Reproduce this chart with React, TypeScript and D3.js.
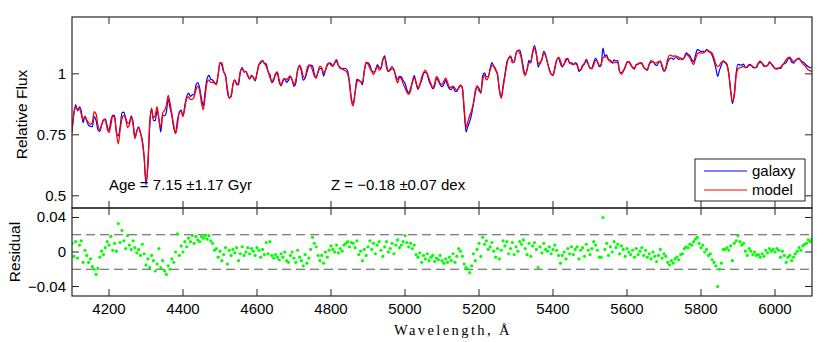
import React from 'react';
import * as d3 from 'd3';

// Wavelength grid: first sample and spacing (Å)
const startWavelength = 4100;
const stepWavelength = 5;

// Best-fit model spectrum (relative flux), one value per 5 Å from 4100 to 6100 Å
const modelFlux: number[] = [
  0.757,0.84,0.862,0.855,0.857,0.835,0.812,0.825,0.81,0.80,0.793,0.80,0.845,0.835,0.79,0.77,0.79,0.812,0.81,0.775,
  0.76,0.79,0.828,0.82,0.76,0.713,0.77,0.815,0.83,0.815,0.78,0.79,0.825,0.79,0.735,0.765,0.78,0.76,0.72,0.66,
  0.56,0.63,0.80,0.859,0.82,0.83,0.865,0.81,0.78,0.84,0.85,0.87,0.912,0.88,0.835,0.79,0.756,0.79,0.845,0.845,
  0.826,0.86,0.90,0.905,0.895,0.895,0.905,0.935,0.95,0.93,0.88,0.853,0.91,0.965,0.975,0.965,0.965,0.962,0.955,1.0,
  1.045,1.045,1.01,0.99,0.94,0.90,0.91,0.955,0.975,0.955,0.965,1.01,1.02,1.01,1.01,0.99,0.98,0.99,0.985,0.975,
  1.0,1.035,1.05,1.052,1.045,1.03,1.01,0.985,0.968,0.98,1.0,1.008,0.975,0.953,0.975,0.98,0.975,0.985,0.992,0.975,
  0.956,0.975,1.015,1.036,1.02,0.99,0.985,1.02,1.037,1.033,1.015,0.99,0.982,1.01,1.032,1.025,1.004,1.015,1.04,1.043,
  1.035,1.03,1.045,1.05,1.035,1.022,1.02,1.015,1.012,1.0,0.96,0.89,0.868,0.92,0.965,0.975,0.968,0.965,1.01,1.048,
  1.04,1.023,1.01,0.997,1.015,1.03,1.015,1.02,1.06,1.068,1.025,1.01,1.015,1.02,1.018,0.985,0.963,0.985,0.98,0.96,
  0.942,0.925,0.916,0.93,0.965,0.985,0.965,0.942,0.955,0.985,1.005,1.015,1.0,0.98,0.96,0.943,0.96,0.988,0.98,0.96,
  0.957,0.97,0.982,0.965,0.945,0.945,0.95,0.94,0.933,0.94,0.953,0.945,0.86,0.78,0.805,0.83,0.85,0.88,0.93,0.948,
  0.93,0.925,0.975,0.995,0.975,0.985,1.015,1.035,1.03,1.02,0.995,0.94,0.90,0.94,0.99,1.035,1.065,1.07,1.045,1.05,
  1.08,1.095,1.085,1.06,1.01,0.993,1.02,1.045,1.05,1.085,1.105,1.08,1.045,1.04,1.06,1.082,1.075,1.045,1.015,1.0,
  0.993,1.02,1.055,1.068,1.055,1.032,1.04,1.062,1.06,1.045,1.04,1.04,1.042,1.035,1.018,1.015,1.03,1.045,1.05,1.04,
  1.025,1.02,1.035,1.055,1.05,1.035,1.04,1.065,1.07,1.068,1.06,1.05,1.045,1.045,1.048,1.045,1.01,0.998,1.01,1.03,
  1.045,1.05,1.04,1.025,1.025,1.035,1.042,1.044,1.04,1.03,1.018,1.02,1.04,1.055,1.05,1.045,1.045,1.05,1.05,1.035,
  1.012,1.025,1.06,1.077,1.075,1.072,1.074,1.072,1.068,1.065,1.06,1.065,1.08,1.075,1.065,1.05,1.038,1.06,1.082,1.087,
  1.085,1.085,1.09,1.097,1.095,1.09,1.085,1.065,1.04,1.03,1.035,1.048,1.05,1.045,1.035,1.0,0.93,0.888,0.91,0.99,
  1.02,1.025,1.028,1.03,1.025,1.03,1.035,1.035,1.03,1.025,1.03,1.045,1.053,1.045,1.035,1.03,1.035,1.045,1.04,1.03,
  1.022,1.019,1.022,1.028,1.035,1.045,1.058,1.066,1.068,1.058,1.05,1.055,1.06,1.06,1.052,1.042,1.035,1.025,1.016,1.013,
  1.01,
];

// Residual (galaxy − model) on the same grid
const residual: number[] = [
  0.010,-0.005,0.012,-0.007,0.008,0.013,-0.012,0.002,-0.004,-0.012,-0.008,-0.017,-0.020,-0.026,-0.019,-0.006,0.001,-0.003,0.005,0.012,
  0.008,0.018,0.002,0.010,0.001,0.033,0.011,0.025,0.013,0.004,0.019,0.008,0.003,0.013,0.005,-0.001,0.003,-0.004,0.009,-0.002,
  -0.015,-0.008,-0.018,-0.004,-0.010,-0.022,-0.014,0.004,-0.018,-0.010,-0.022,-0.026,-0.016,-0.020,-0.008,-0.012,0.000,0.021,-0.004,0.007,
  0.000,0.012,0.006,0.016,0.012,0.019,0.010,0.018,0.014,0.012,0.018,0.016,0.019,0.015,0.019,0.013,0.010,0.002,0.004,-0.006,
  0.001,-0.010,-0.003,0.005,-0.014,0.002,-0.004,0.003,-0.001,0.005,-0.010,-0.002,0.006,-0.004,0.000,0.005,-0.002,0.004,0.001,-0.004,
  0.005,0.002,-0.006,0.003,-0.003,0.011,-0.002,0.012,-0.004,-0.007,-0.003,-0.006,-0.009,-0.002,-0.006,0.000,-0.010,-0.012,-0.004,0.000,
  -0.007,-0.012,0.002,-0.006,-0.010,-0.016,-0.003,-0.013,-0.007,0.003,0.017,0.010,0.006,-0.004,-0.010,-0.004,-0.013,0.000,-0.006,0.002,
  0.007,0.003,0.000,0.008,-0.001,0.004,0.001,0.008,0.010,0.012,0.006,0.011,0.010,0.005,0.013,-0.003,0.001,-0.010,0.003,-0.004,
  0.006,0.013,0.003,0.010,-0.002,0.008,0.012,0.002,-0.005,0.006,0.012,0.000,0.004,0.010,-0.002,0.008,0.014,0.005,0.008,0.012,
  0.019,0.011,0.006,0.010,0.004,0.008,-0.003,-0.006,-0.001,-0.012,-0.004,-0.008,-0.002,-0.010,-0.006,-0.004,-0.011,-0.007,-0.009,-0.004,
  -0.010,-0.013,-0.008,-0.012,-0.006,-0.010,-0.002,-0.012,-0.005,0.004,0.001,-0.005,-0.014,-0.018,-0.020,-0.024,-0.016,-0.002,-0.010,0.003,
  0.010,-0.005,0.017,0.009,0.013,0.003,0.006,0.011,0.001,-0.006,0.004,-0.008,0.002,0.013,0.007,0.012,-0.002,0.004,0.011,-0.003,
  0.006,0.001,0.012,0.009,0.014,0.004,-0.003,0.010,-0.005,0.007,0.011,0.003,-0.018,0.006,-0.001,0.010,0.003,0.001,0.006,-0.002,
  0.003,0.008,0.002,-0.004,-0.013,-0.004,0.000,-0.008,0.004,-0.002,0.006,-0.003,0.003,0.006,-0.008,0.002,0.005,-0.005,0.009,0.002,
  -0.003,0.004,0.012,0.008,0.002,-0.006,-0.006,0.040,0.003,0.010,-0.004,0.006,0.000,0.012,0.005,0.009,-0.002,0.007,0.003,-0.005,
  0.004,0.000,-0.003,0.002,-0.006,0.004,-0.003,0.001,0.005,-0.004,0.002,-0.006,-0.002,-0.008,0.000,-0.005,-0.011,-0.004,0.003,-0.007,
  -0.002,-0.005,-0.012,-0.015,-0.010,-0.013,-0.008,-0.006,-0.009,-0.003,-0.002,0.004,0.006,0.005,0.009,0.008,0.012,0.015,0.017,0.010,
  0.005,0.008,0.000,0.003,-0.004,-0.002,-0.009,-0.012,-0.016,-0.040,-0.020,-0.013,0.003,0.003,0.005,0.002,0.007,-0.010,0.010,0.013,
  0.019,0.012,0.008,0.010,0.001,-0.004,0.004,0.001,-0.003,0.000,-0.004,-0.003,-0.006,-0.002,-0.005,0.002,-0.001,0.004,0.001,0.003,
  0.000,0.004,0.002,-0.006,0.001,-0.004,-0.012,-0.006,-0.004,-0.010,-0.006,-0.002,0.001,0.005,0.002,0.007,0.009,0.010,0.014,0.012,
  0.015,
];

const xTicks = [4200, 4400, 4600, 4800, 5000, 5200, 5400, 5600, 5800, 6000];
const fluxTicks = [0.5, 0.75, 1];
const fluxTickLabels = ['0.5', '0.75', '1'];
const residTicks = [-0.04, 0, 0.04];
const residTickLabels = ['\u22120.04', '0', '0.04'];
const residBands = [-0.02, 0.02];
const seriesNames = ['galaxy', 'model'];
const seriesColors = ['#0000ff', '#ff0000'];
const annotationAge = 'Age = 7.15 \u00b11.17 Gyr';
const annotationZ = 'Z = \u22120.18 \u00b10.07 dex';

const W = 817;
const H = 342;
const L = 72;
const R = 812;
const T1 = 17;
const B1 = 208;
const B2 = 296;
const SANS = '"Liberation Sans", Arial, Helvetica, sans-serif';
const SERIF = '"Liberation Serif", "DejaVu Serif", serif';
const FRAME = '#262626';

export default function App() {
  const n = Math.min(modelFlux.length, residual.length);
  const idx = d3.range(n);
  const wl = (i: number) => startWavelength + stepWavelength * i;

  const x = d3.scaleLinear().domain([4100, 6100]).range([L, R]);
  const yTop = d3.scaleLinear().domain([0.45, 1.233]).range([B1, T1]);
  const yRes = d3.scaleLinear().domain([-0.051, 0.051]).range([B2, B1]);

  const modelLine = d3
    .line<number>()
    .curve(d3.curveMonotoneX)
    .x((i) => x(wl(i)))
    .y((i) => yTop(modelFlux[i]));
  const galaxyLine = d3
    .line<number>()
    .curve(d3.curveMonotoneX)
    .x((i) => x(wl(i)))
    .y((i) => yTop(modelFlux[i] + residual[i]));

  const tick = 7;

  return (
    <svg
      width={W}
      height={H}
      style={{ position: 'absolute', left: 0, top: 0, background: '#fff' }}
      xmlns="http://www.w3.org/2000/svg"
    >
      <defs>
        <clipPath id="topClip">
          <rect x={L} y={T1} width={R - L} height={B1 - T1} />
        </clipPath>
        <clipPath id="resClip">
          <rect x={L} y={B1} width={R - L} height={B2 - B1} />
        </clipPath>
      </defs>
      <rect x={0} y={0} width={W} height={H} fill="#fff" />

      {/* Spectra */}
      <g clipPath="url(#topClip)">
        <path d={galaxyLine(idx) || ''} fill="none" stroke={seriesColors[0]} strokeWidth={1.2} strokeLinejoin="round" />
        <path d={modelLine(idx) || ''} fill="none" stroke={seriesColors[1]} strokeWidth={1.3} strokeLinejoin="round" />
      </g>

      {/* Residual bands */}
      {residBands.map((v) => (
        <line key={v} x1={L} x2={R} y1={yRes(v)} y2={yRes(v)} stroke="#555" strokeWidth={1.1} strokeDasharray="9,5" />
      ))}
      <g clipPath="url(#resClip)">
        {idx.map((i) => (
          <circle key={i} cx={x(wl(i))} cy={yRes(residual[i])} r={1.6} fill="#00ff00" />
        ))}
      </g>

      {/* Frames */}
      <rect x={L} y={T1} width={R - L} height={B1 - T1} fill="none" stroke={FRAME} strokeWidth={1.2} />
      <rect x={L} y={B1} width={R - L} height={B2 - B1} fill="none" stroke={FRAME} strokeWidth={1.2} />

      {/* X ticks */}
      {xTicks.map((t) => (
        <g key={t} stroke={FRAME} strokeWidth={1}>
          <line x1={x(t)} x2={x(t)} y1={T1} y2={T1 + tick} />
          <line x1={x(t)} x2={x(t)} y1={B1} y2={B1 - tick} />
          <line x1={x(t)} x2={x(t)} y1={B1} y2={B1 + tick} />
          <line x1={x(t)} x2={x(t)} y1={B2} y2={B2 - tick} />
        </g>
      ))}
      {xTicks.map((t) => (
        <text key={'l' + t} x={x(t)} y={314} textAnchor="middle" fontFamily={SANS} fontSize={15} fill="#000">
          {t}
        </text>
      ))}

      {/* Flux ticks */}
      {fluxTicks.map((t, k) => (
        <g key={t}>
          <line x1={L} x2={L + tick} y1={yTop(t)} y2={yTop(t)} stroke={FRAME} />
          <line x1={R} x2={R - tick} y1={yTop(t)} y2={yTop(t)} stroke={FRAME} />
          <text x={L - 6} y={yTop(t) + 5} textAnchor="end" fontFamily={SANS} fontSize={15} fill="#000">
            {fluxTickLabels[k]}
          </text>
        </g>
      ))}

      {/* Residual ticks */}
      {residTicks.map((t, k) => (
        <g key={t}>
          <line x1={L} x2={L + tick} y1={yRes(t)} y2={yRes(t)} stroke={FRAME} />
          <line x1={R} x2={R - tick} y1={yRes(t)} y2={yRes(t)} stroke={FRAME} />
          <text x={L - 6} y={yRes(t) + 5} textAnchor="end" fontFamily={SANS} fontSize={15} fill="#000">
            {residTickLabels[k]}
          </text>
        </g>
      ))}

      {/* Axis labels */}
      <text
        transform={`translate(27, ${(T1 + B1) / 2 + 2}) rotate(-90)`}
        textAnchor="middle"
        fontFamily={SANS}
        fontSize={15.5}
        fill="#000"
      >
        Relative Flux
      </text>
      <text
        transform={`translate(20, ${(B1 + B2) / 2}) rotate(-90)`}
        textAnchor="middle"
        fontFamily={SANS}
        fontSize={15.5}
        fill="#000"
      >
        Residual
      </text>
      <text x={453} y={335} textAnchor="middle" fontFamily={SERIF} fontSize={14.5} letterSpacing={2.4} fill="#000">
        Wavelength, Å
      </text>

      {/* Annotations */}
      <text x={109} y={190} fontFamily={SANS} fontSize={15} fill="#000">
        {annotationAge}
      </text>
      <text x={331} y={190} fontFamily={SANS} fontSize={15} fill="#000">
        {annotationZ}
      </text>

      {/* Legend */}
      <rect x={695} y={159} width={110} height={42} fill="#fff" stroke={FRAME} strokeWidth={1} />
      {seriesNames.map((name, k) => (
        <g key={name}>
          <line x1={704} x2={747} y1={171 + k * 19} y2={171 + k * 19} stroke={seriesColors[k]} strokeWidth={1.2} />
          <text x={752} y={176 + k * 19} fontFamily={SANS} fontSize={15} fill="#000">
            {name}
          </text>
        </g>
      ))}
    </svg>
  );
}
